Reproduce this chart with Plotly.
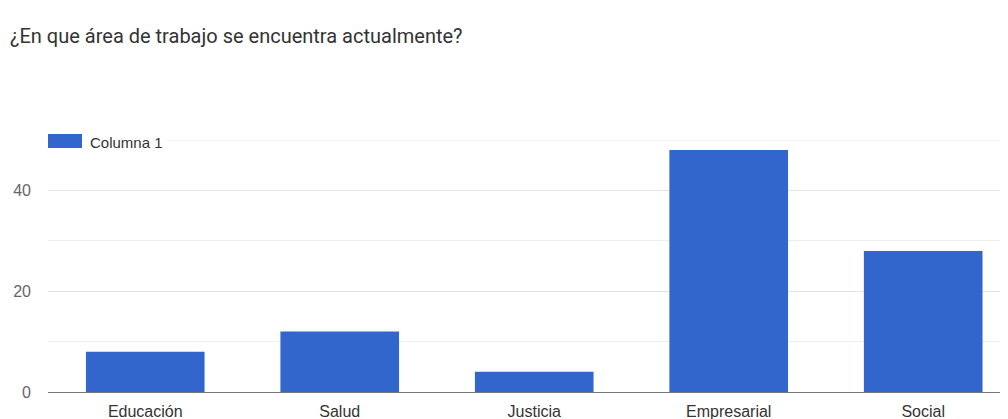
import plotly.graph_objects as go

categories = ["Educación", "Salud", "Justicia", "Empresarial", "Social"]
values = [8, 12, 4, 48, 28]
series_name = "Columna 1"
title_text = "¿En que área de trabajo se encuentra actualmente?"
y_ticks = [0, 20, 40]

BLUE = "#3366cc"
PLOT_W = 960
PLOT_H = 252

fig = go.Figure()
fig.add_trace(go.Bar(x=categories, y=values, name=series_name,
                     marker=dict(color=BLUE, line=dict(width=0)),
                     showlegend=False))

fig.update_layout(
    width=1000, height=411,
    margin=dict(l=40, r=0, t=132, b=27),
    paper_bgcolor="white", plot_bgcolor="white",
    bargap=0.39,
    font=dict(family="Liberation Sans, Arial, sans-serif", size=15, color="#444"),
)
fig.update_xaxes(
    range=[-0.5, 4.436],
    showgrid=False, zeroline=False, showline=False,
    ticks="", ticklabelstandoff=8,
    tickfont=dict(size=16, color="#333"),
)
fig.update_yaxes(
    range=[0, 50],
    tickvals=y_ticks, ticktext=[str(v) for v in y_ticks],
    showgrid=True, gridcolor="#e4e4e4", gridwidth=1,
    minor=dict(dtick=10, tick0=0, showgrid=True, gridcolor="#eeeeee", gridwidth=1),
    zeroline=True, zerolinecolor="#777", zerolinewidth=1,
    showline=False, ticks="", ticklabelstandoff=16,
    tickfont=dict(size=16, color="#666"),
)
# top gridline at 50
fig.add_shape(type="line", xref="paper", yref="y", x0=0, x1=1, y0=50, y1=50,
              line=dict(color="#eeeeee", width=1), layer="below")

# title
fig.add_annotation(text=title_text, xref="paper", yref="paper",
                   x=0, y=1.0, xanchor="left", yanchor="middle",
                   xshift=-40, yshift=104,
                   showarrow=False,
                   font=dict(family="Roboto, sans-serif", size=20, color="#333"))

# legend swatch + label
fig.add_shape(type="rect", xref="paper", yref="paper",
              x0=0.0, x1=34 / PLOT_W, y0=1.0 - 8 / PLOT_H, y1=1.0 + 6 / PLOT_H,
              fillcolor=BLUE, line=dict(width=0), layer="above")
fig.add_annotation(text=series_name, xref="paper", yref="paper",
                   x=40 / PLOT_W, y=1.0 - 2 / PLOT_H, xanchor="left", yanchor="middle",
                   showarrow=False, bgcolor="white",
                   font=dict(family="Liberation Sans, Arial, sans-serif", size=15, color="#333"))

fig.write_html("out.html")
